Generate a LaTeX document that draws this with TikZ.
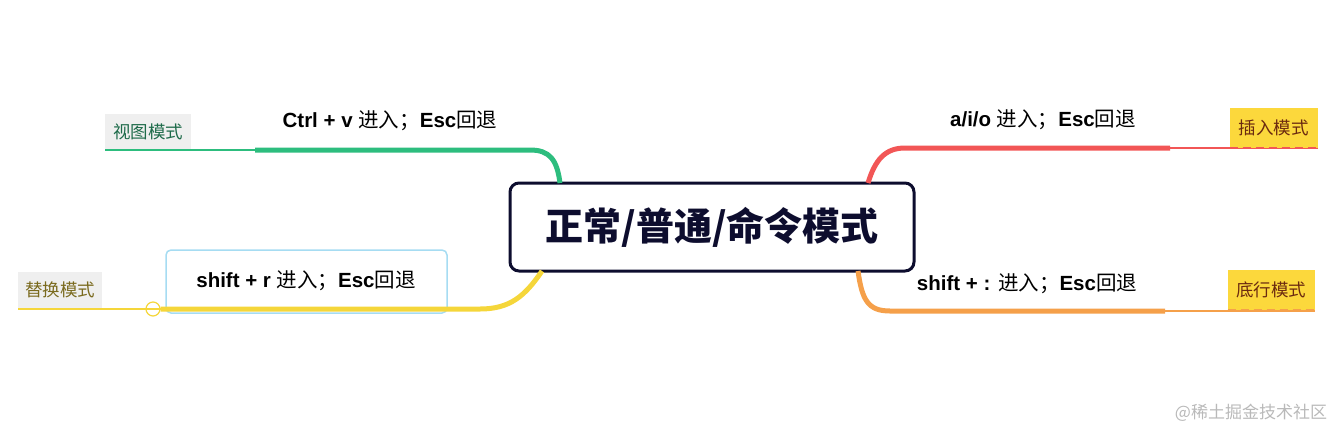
\documentclass[tikz,border=0pt]{standalone}
\usepackage{fontspec}
\setmainfont{Noto Sans CJK SC}
\newfontfamily\cjk{Noto Sans CJK SC}
\newfontfamily\lat{Liberation Sans}
\usetikzlibrary{positioning}
\definecolor{cgreen}{HTML}{2DBD7E}
\definecolor{cred}{HTML}{F25656}
\definecolor{corange}{HTML}{F5A04A}
\definecolor{cyellow}{HTML}{F5D63A}
\definecolor{cblue}{HTML}{A6DCF2}
\definecolor{cnavy}{HTML}{0D0D2E}
\definecolor{leafgray}{HTML}{EFEFEF}
\definecolor{leafyel}{HTML}{FCD83C}
\definecolor{tgreen}{HTML}{1E6B4A}
\definecolor{tolive}{HTML}{7A6A1E}
\definecolor{tbrown}{HTML}{6B2A10}
\newcommand{\zh}[1]{{\cjk\mdseries #1}}
\tikzset{
  x=1pt,y=-1pt,
  lbl/.style={font=\lat\bfseries\fontsize{20.5}{24}\selectfont, text=black, inner sep=0pt, anchor=center},
  leaf/.style={font=\cjk\fontsize{17.5}{20}\selectfont, inner sep=0pt, minimum height=36pt, anchor=south west},
  thinbr/.style={line width=2.6pt},
}
\begin{document}
\begin{tikzpicture}
\useasboundingbox (0,0) rectangle (1335,432);
% central box
\node[draw=cnavy, line width=3pt, rounded corners=9pt, minimum width=404pt, minimum height=88pt, inner sep=0pt, fill=white]
  (root) at (712,227) {\cjk\bfseries\fontsize{38}{44}\selectfont\color{cnavy}正常/普通/命令模式};

% ---------- green (upper left)
\coordinate (g1) at (560,183);
\coordinate (g2) at (255,150);
\coordinate (g3) at (105,150);
\node[leaf, fill=leafgray, text=tgreen, minimum width=86pt] (gleaf) at (105,150) {视图模式};
\draw[cgreen, thinbr] (g3) -- (g2);
\draw[cgreen, line width=5pt] (g2) -- (530,150) .. controls (550,150) and (557,160) .. (g1);
\node[lbl] (glbl) at (390,121) {Ctrl + v \zh{进入；}Esc\zh{回退}};

% ---------- red (upper right)
\coordinate (r1) at (868,183);
\coordinate (r2) at (1170,148);
\coordinate (r3) at (1318,148);
\draw[cred, line width=5pt] (r1) .. controls (875,160) and (885,148) .. (905,148) -- (r2);
\draw[cred, thinbr] (r2) -- (r3);
\node[leaf, fill=leafyel, text=tbrown, minimum width=88pt, minimum height=40pt, anchor=south east] (rleaf) at (1318,148) {插入模式};
\draw[cred, line width=2.2pt, dash pattern=on 8pt off 5pt] (rleaf.south west) -- (rleaf.south east);
\node[lbl] (rlbl) at (1043,120) {a/i/o \zh{进入；}Esc\zh{回退}};

% ---------- orange (lower right)
\coordinate (o1) at (858,271);
\coordinate (o2) at (1165,311);
\coordinate (o3) at (1315,311);
\draw[corange, line width=5pt] (o1) .. controls (862,300) and (868,311) .. (890,311) -- (o2);
\draw[corange, thinbr] (o2) -- (o3);
\node[leaf, fill=leafyel, text=tbrown, minimum width=87pt, minimum height=40pt, anchor=south east] (oleaf) at (1315,310) {底行模式};
\draw[corange, line width=2.2pt, dash pattern=on 8pt off 5pt] (oleaf.south west) -- (oleaf.south east);
\node[lbl] (olbl) at (1027,284) {shift + : \zh{进入；}Esc\zh{回退}};

% ---------- yellow (lower left)
\coordinate (y1) at (542,271);
\coordinate (y3) at (18,309);
\node[draw=cblue, line width=1.5pt, rounded corners=5pt, minimum width=281pt, minimum height=63pt, inner sep=0pt] (ybox) at (306.5,281.5) {};
\node[lbl] (ylbl) at (306,281) {shift + r \zh{进入；}Esc\zh{回退}};
\node[circle, draw=cyellow, line width=1.2pt, fill=white, minimum size=14pt, inner sep=0pt] (ycirc) at (153,309) {};
\draw[cyellow, line width=5pt] (y1) .. controls (525,296) and (510,309) .. (480,309) -- (ycirc.east);
\draw[cyellow, line width=2.2pt] (ycirc.west) -- (y3);
\draw[cyellow, line width=1.2pt] (ycirc.west) -- (ycirc.east);
\node[leaf, fill=leafgray, text=tolive, minimum width=84pt] (yleaf) at (18,308) {替换模式};

% watermark
\node[font=\cjk\fontsize{17}{20}\selectfont, text=gray!55, inner sep=0pt] (wm) at (1251,413) {@稀土掘金技术社区};
\end{tikzpicture}
\end{document}
